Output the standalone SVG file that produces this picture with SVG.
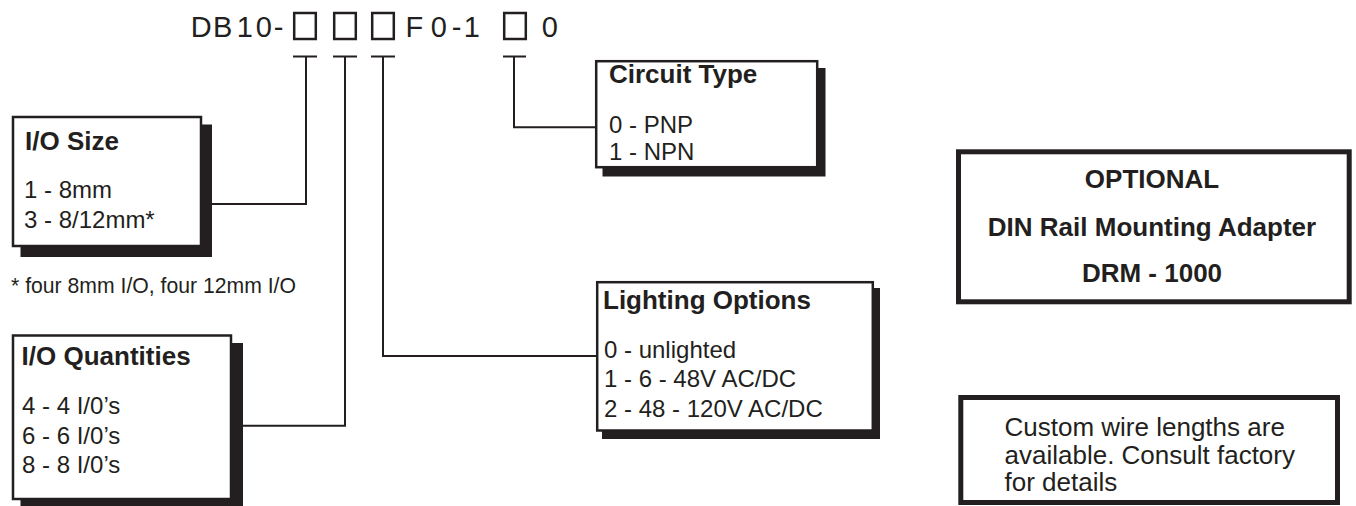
<svg xmlns="http://www.w3.org/2000/svg" width="1356" height="506" viewBox="0 0 1356 506">
  <style>
    text { font-family: "Liberation Sans", Arial, Helvetica, sans-serif; fill: #231f20; }
    .code { font-size: 29px; }
    .title { font-size: 26px; font-weight: bold; }
    .body { font-size: 24px; }
    .note { font-size: 21.2px; }
    .big { font-size: 26px; }
    .ctr { text-anchor: middle; }
    .box { fill: #ffffff; stroke: #231f20; stroke-width: 2.5; }
    .shadow { fill: #231f20; stroke: none; }
    .heavy { fill: #ffffff; stroke: #231f20; stroke-width: 5; }
    .slot { fill: none; stroke: #231f20; stroke-width: 2.5; }
    .wire { fill: none; stroke: #231f20; stroke-width: 2; }
  </style>

  <g id="part-code">
    <text class="code" x="190.8 212.9 236.8 255.8 273.7" y="36.5">DB10-</text>
    <rect class="slot" x="294.2" y="13" width="21.6" height="26"/>
    <rect class="slot" x="334.2" y="13" width="21.6" height="26"/>
    <rect class="slot" x="372.2" y="13" width="21.6" height="26"/>
    <text class="code" x="405.6 430.8 451.7 463.8" y="36.5">F0-1</text>
    <rect class="slot" x="504.2" y="13" width="21.6" height="26"/>
    <text class="code" x="541.8" y="36.5">0</text>
  </g>

  <g id="connectors">
    <path class="wire" d="M293,56.5 H317 M306,56.5 V204 H210"/>
    <path class="wire" d="M333,56.5 H357 M345,56.5 V425.7 H240"/>
    <path class="wire" d="M371,56.5 H395 M383,56.5 V356 H597"/>
    <path class="wire" d="M503,56.5 H526 M514,56.5 V127.3 H596"/>
  </g>

  <g id="node-io-size">
    <rect class="shadow" x="20.5" y="124.5" width="191.5" height="132.5"/>
    <rect class="box" x="13" y="117" width="188" height="129"/>
    <text class="title" x="25" y="150">I/O Size</text>
    <text class="body" x="24" y="198.3">1 - 8mm</text>
    <text class="body" x="24" y="227.5">3 - 8/12mm*</text>
  </g>

  <g id="footnote">
    <text class="note" x="11" y="293.3">* four 8mm I/O, four 12mm I/O</text>
  </g>

  <g id="node-io-quantities">
    <rect class="shadow" x="20.5" y="343" width="222.5" height="170"/>
    <rect class="box" x="13" y="335.5" width="218" height="163.5"/>
    <text class="title" x="21.6" y="365">I/O Quantities</text>
    <text class="body" x="22" y="414">4 - 4 I/0’s</text>
    <text class="body" x="22" y="444">6 - 6 I/0’s</text>
    <text class="body" x="22" y="473.3">8 - 8 I/0’s</text>
  </g>

  <g id="node-circuit-type">
    <rect class="shadow" x="602.5" y="68" width="223" height="108.5"/>
    <rect class="box" x="596.2" y="61.2" width="221" height="106"/>
    <text class="title" x="609" y="83">Circuit Type</text>
    <text class="body" x="609" y="133.3">0 - PNP</text>
    <text class="body" x="609" y="160">1 - NPN</text>
  </g>

  <g id="node-lighting-options">
    <rect class="shadow" x="602" y="288" width="278" height="151"/>
    <rect class="box" x="597.2" y="282.2" width="275.6" height="148.3"/>
    <text class="title" x="603" y="309">Lighting Options</text>
    <text class="body" x="604" y="357.7">0 - unlighted</text>
    <text class="body" x="604" y="386.7">1 - 6 - 48V AC/DC</text>
    <text class="body" x="604" y="416.7">2 - 48 - 120V AC/DC</text>
  </g>

  <g id="node-din-adapter">
    <rect class="heavy" x="958.5" y="151.8" width="390.7" height="150"/>
    <text class="title ctr" x="1152" y="188.3">OPTIONAL</text>
    <text class="title ctr" x="1152" y="236">DIN Rail Mounting Adapter</text>
    <text class="title ctr" x="1152" y="281.7">DRM - 1000</text>
  </g>

  <g id="node-custom-lengths">
    <rect class="heavy" x="960.8" y="397.5" width="376.7" height="105"/>
    <text class="big" x="1004.5" y="436">Custom wire lengths are</text>
    <text class="big" x="1004.5" y="463.5">available. Consult factory</text>
    <text class="big" x="1004.5" y="491">for details</text>
  </g>
</svg>
